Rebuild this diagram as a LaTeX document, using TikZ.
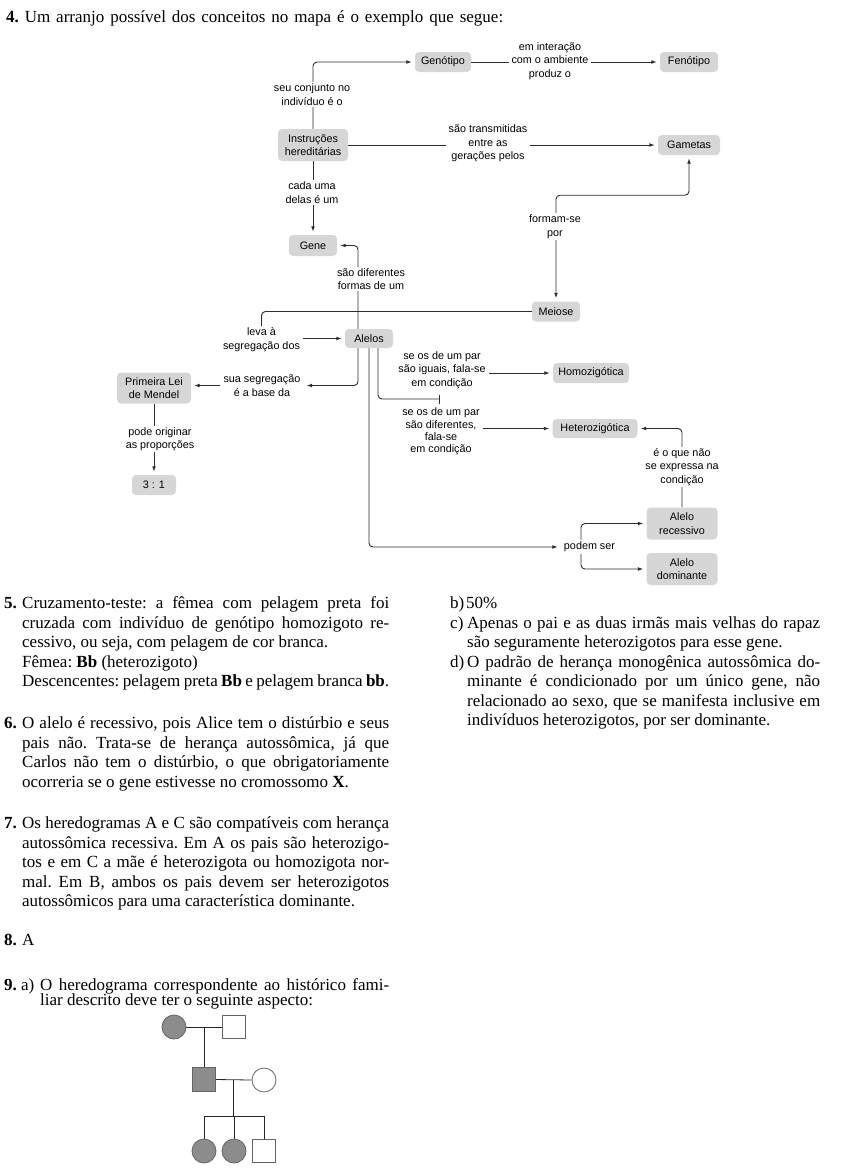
\documentclass[tikz,border=0pt]{standalone}
\usepackage{fontspec}
\setmainfont{Liberation Serif}
\newfontfamily\mapfont{Liberation Sans}
\usetikzlibrary{arrows.meta,calc}
\pgfdeclarelayer{bg}
\pgfsetlayers{bg,main}
\definecolor{boxgray}{RGB}{214,214,214}
\definecolor{linecol}{RGB}{45,45,45}
\definecolor{pedfill}{RGB}{140,140,140}
\definecolor{pedline}{RGB}{100,100,100}
\tikzset{
  concept/.style={rectangle, rounded corners=4pt, fill=boxgray, inner sep=2pt, align=center,
    font=\mapfont\fontsize{10.8}{13.5}\selectfont},
  lbl/.style={fill=white, inner xsep=3pt, inner ysep=1.5pt, align=center,
    font=\mapfont\fontsize{10.8}{13.5}\selectfont},
  conn/.style={draw=linecol, line width=0.9pt, rounded corners=4pt},
  arr/.style={conn, -{Latex[length=5.5pt,width=3.8pt]}, shorten >=3pt},
  biarr/.style={conn, {Latex[length=5.5pt,width=3.8pt]}-{Latex[length=5.5pt,width=3.8pt]}, shorten >=3pt, shorten <=3pt},
  txt/.style={anchor=base west, inner sep=0pt, font=\fontsize{17}{19.4}\selectfont\frenchspacing},
  pedaff/.style={fill=pedfill, draw=pedline, line width=0.8pt, inner sep=0pt},
  pedunaff/.style={fill=white, draw=pedline, line width=0.8pt, inner sep=0pt},
  pedln/.style={draw=black!85, line width=0.8pt}
}
\newcommand{\JLine}[4]{\node[txt] (#1) at (#2) {\makebox[#3][s]{#4}};}
\newcommand{\TLine}[3]{\node[txt] (#1) at (#2) {#3};}
\begin{document}
\begin{tikzpicture}[x={(1pt,0pt)}, y={(0pt,-1pt)}]
\path[use as bounding box] (0,0) rectangle (844,1176);

% heading
\node[txt] (h4) at (6,22) {\makebox[497pt][s]{\textbf{4.} Um arranjo possível dos conceitos no mapa é o exemplo que segue:}};

% concept nodes
\node[concept, minimum width=56pt, minimum height=20pt] (geno) at (443,62) {Genótipo};
\node[concept, minimum width=58pt, minimum height=20pt] (feno) at (689,62) {Fenótipo};
\node[concept, minimum width=70pt, minimum height=32pt] (instr) at (313,145) {Instruções\\hereditárias};
\node[concept, minimum width=62pt, minimum height=20pt] (gam) at (689,145) {Gametas};
\node[concept, minimum width=48pt, minimum height=21pt] (gene) at (313,245.5) {Gene};
\node[concept, minimum width=48pt, minimum height=20pt] (meiose) at (556,311.5) {Meiose};
\node[concept, minimum width=48pt, minimum height=19pt] (alelos) at (369,338.5) {Alelos};
\node[concept, minimum width=74pt, minimum height=31pt] (pl) at (154,388) {Primeira Lei\\de Mendel};
\node[concept, minimum width=44pt, minimum height=20pt] (r31) at (154,485) {3 : 1};
\node[concept, minimum width=76pt, minimum height=20pt] (homo) at (591,373) {Homozigótica};
\node[concept, minimum width=85pt, minimum height=19pt] (het) at (595,428.5) {Heterozigótica};
\node[concept, minimum width=71pt, minimum height=32pt] (rec) at (682,523.5) {Alelo\\recessivo};
\node[concept, minimum width=71pt, minimum height=32pt] (dom) at (682,569) {Alelo\\dominante};

% link labels
\node[lbl] (l1) at (550,61) {em interação\\com o ambiente\\produz o};
\node[lbl] (l2) at (312,94.5) {seu conjunto no\\indivíduo é o};
\node[lbl] (l3) at (488,143.5) {são transmitidas\\entre as\\gerações pelos};
\node[lbl] (l4) at (312,192.5) {cada uma\\delas é um};
\node[lbl] (l5) at (555,226.5) {formam-se\\por};
\node[lbl] (l6) at (371,279) {são diferentes\\formas de um};
\node[lbl] (l7) at (261.5,339.5) {leva à\\segregação dos};
\node[lbl] (l8) at (262,385.5) {sua segregação\\é a base da};
\node[lbl] (l9) at (160,439) {pode originar\\as proporções};
\node[lbl] (l10) at (442,370) {se os de um par\\são iguais, fala-se\\em condição};
\node[lbl, font=\mapfont\fontsize{10.8}{12.3}\selectfont] (l11) at (441,431.5) {se os de um par\\são diferentes,\\fala-se\\em condição};
\node[lbl] (l12) at (682,467) {é o que não\\se expressa na\\condição};
\node[lbl] (l13) at (589.5,547) {podem ser};
\coordinate (split) at (440,399);

\begin{pgfonlayer}{bg}
\draw[arr] (instr.north) |- (geno.west);
\draw[arr] (geno.east) -- (feno.west);
\draw[arr] (instr.east) -- (gam.west);
\draw[arr] (instr.south) -- (gene.north);
\draw[biarr] (meiose.north) |- ([yshift=-40pt]gam.south) -- (gam.south);
\draw[arr] ([xshift=-11pt]alelos.north) |- (gene.east);
\draw[arr] (meiose.west) -| (l7.center |- alelos.west) -- (alelos.west);
\draw[arr] ([xshift=-11pt]alelos.south) |- (l8.east);
\draw[arr] (l8.west) -- (l8.west -| pl.east);
\draw[arr] (pl.south) -- (r31.north);
\draw[conn, -{Bar[width=9pt]}] ([xshift=9pt]alelos.south) |- (split);
\draw[arr] (l10.east |- homo.west) -- (homo.west);
\draw[arr] (l11.east |- het.west) -- (het.west);
\draw[arr] (rec.north) |- (het.east);
\draw[arr] (alelos.south) |- (l13.west);
\draw[arr] ([xshift=-8.5pt]l13.center) |- (rec.west);
\draw[arr] ([xshift=-8.5pt]l13.center) |- (dom.west);
\end{pgfonlayer}

% left column text
\TLine{n5}{4,608.5}{\textbf{5.}}
\JLine{p5a}{22,608.5}{367pt}{Cruzamento-teste: a fêmea com pelagem preta foi}
\JLine{p5b}{22,628}{367pt}{cruzada com indivíduo de genótipo homozigoto re-}
\TLine{p5c}{22,647.5}{cessivo, ou seja, com pelagem de cor branca.}
\TLine{p5d}{22,667}{Fêmea: \textbf{Bb} (heterozigoto)}
\JLine{p5e}{22,686.5}{367pt}{Descencentes: pelagem preta \textbf{Bb} e pelagem branca \textbf{bb}.}

\TLine{n6}{4,728.5}{\textbf{6.}}
\JLine{p6a}{22,728.5}{367pt}{O alelo é recessivo, pois Alice tem o distúrbio e seus}
\JLine{p6b}{22,748}{367pt}{pais não. Trata-se de herança autossômica, já que}
\JLine{p6c}{22,767.5}{367pt}{Carlos não tem o distúrbio, o que obrigatoriamente}
\TLine{p6d}{22,787}{ocorreria se o gene estivesse no cromossomo \textbf{X}.}

\TLine{n7}{4,828.5}{\textbf{7.}}
\JLine{p7a}{22,828.5}{367pt}{Os heredogramas A e C são compatíveis com herança}
\JLine{p7b}{22,848}{367pt}{autossômica recessiva. Em A os pais são heterozigo-}
\JLine{p7c}{22,867.5}{367pt}{tos e em C a mãe é heterozigota ou homozigota nor-}
\JLine{p7d}{22,887}{367pt}{mal. Em B, ambos os pais devem ser heterozigotos}
\TLine{p7e}{22,906.5}{autossômicos para uma característica dominante.}

\TLine{n8}{4,945.5}{\textbf{8.}}
\TLine{p8}{22,945.5}{A}

\TLine{n9}{4,990.5}{\textbf{9.}}
\TLine{a9}{21,990.5}{a)}
\JLine{p9a}{40,990.5}{349pt}{O heredograma correspondente ao histórico fami-}
\TLine{p9b}{40,1005.5}{liar descrito deve ter o seguinte aspecto:}

% right column text
\TLine{lb}{450,608.5}{b)}
\TLine{pb}{466,608.5}{50\%}
\TLine{lc}{450,628}{c)}
\JLine{pc1}{467,628}{353pt}{Apenas o pai e as duas irmãs mais velhas do rapaz}
\TLine{pc2}{467,647.5}{são seguramente heterozigotos para esse gene.}
\TLine{ld}{450,667}{d)}
\JLine{pd1}{467,667}{353pt}{O padrão de herança monogênica autossômica do-}
\JLine{pd2}{467,686.5}{353pt}{minante é condicionado por um único gene, não}
\JLine{pd3}{467,706}{353pt}{relacionado ao sexo, que se manifesta inclusive em}
\TLine{pd4}{467,725.5}{indivíduos heterozigotos, por ser dominante.}

% pedigree
\node[circle, minimum size=24pt, pedaff] (gm) at (174,1027) {};
\node[rectangle, minimum size=23pt, pedunaff] (gf) at (234,1027) {};
\node[rectangle, minimum size=23.5pt, pedaff] (fa) at (204,1079.5) {};
\node[circle, minimum size=24pt, pedunaff] (mo) at (264,1080) {};
\node[circle, minimum size=24pt, pedaff] (c1) at (204,1151) {};
\node[circle, minimum size=24pt, pedaff] (c2) at (234,1151) {};
\node[rectangle, minimum size=23pt, pedunaff] (c3) at (264,1150.5) {};
\coordinate (m1) at ($(gm.east)!0.5!(gf.west)$);
\coordinate (m2) at ($(fa.east)!0.5!(mo.west)$);
\coordinate (sib) at (234,1116);
\begin{pgfonlayer}{bg}
\draw[pedln] (gm.east) -- (gf.west);
\draw[pedln] (m1) -- (m1 |- fa.north);
\draw[pedln] (fa.east) -- (mo.west);
\draw[pedln] (m2) -- (m2 |- sib);
\draw[pedln] (c1.north) -- (c1.north |- sib) -- (c3.north |- sib) -- (c3.north);
\draw[pedln] (c2.north) -- (c2.north |- sib);
\end{pgfonlayer}
\end{tikzpicture}
\end{document}
